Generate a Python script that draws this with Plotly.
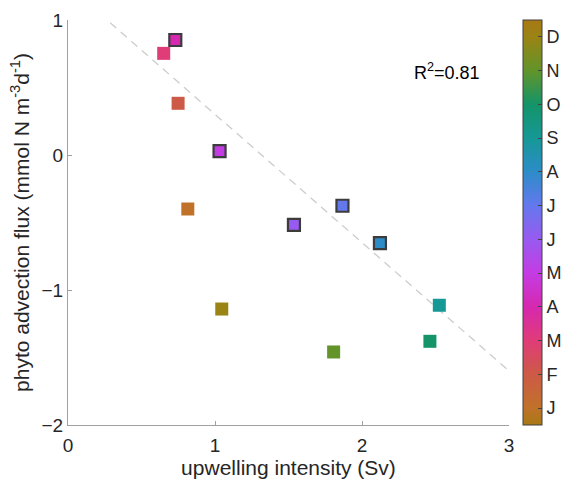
import numpy as np
import plotly.graph_objects as go

# ---- data ----
month_labels = ["J", "F", "M", "A", "M", "J", "J", "A", "S", "O", "N", "D"]
month_num = [1, 2, 3, 4, 5, 6, 7, 8, 9, 10, 11, 12]
upwelling = [0.815, 0.749, 0.651, 0.730, 1.031, 1.537, 1.867, 2.122, 2.526, 2.462, 1.807, 1.046]
advection = [-0.400, 0.383, 0.753, 0.852, 0.028, -0.517, -0.376, -0.653, -1.113, -1.380, -1.459, -1.141]
in_fit = [False, False, False, True, True, True, True, True, False, False, False, False]
r2_label = "R<sup>2</sup>=0.81"
x_ticks = [0, 1, 2, 3]
y_ticks = [-2, -1, 0, 1]

# cyclic month colour scale (sampled from the reference colourbar)
cscale = [
    [0.0, "#a87814"],
    [0.5 / 12, "#c0722a"],
    [1.5 / 12, "#cd5a46"],
    [2.5 / 12, "#e03c78"],
    [3.5 / 12, "#d628b0"],
    [4.5 / 12, "#c43ce4"],
    [5.5 / 12, "#985af0"],
    [6.5 / 12, "#6478ee"],
    [7.5 / 12, "#2c8cc8"],
    [8.5 / 12, "#169896"],
    [9.5 / 12, "#149468"],
    [10.5 / 12, "#62942a"],
    [11.5 / 12, "#9a8414"],
    [1.0, "#a87814"],
]

FONT = "Liberation Sans, Arial, Helvetica, sans-serif"
TXT = "#262626"

x = np.array(upwelling)
y = np.array(advection)
m = np.array(month_num)
f = np.array(in_fit)

slope, intercept = np.polyfit(x[f], y[f], 1)
xl = np.array([0.0, 3.0])
yl = slope * xl + intercept

fig = go.Figure()
fig.add_trace(go.Scatter(
    x=xl, y=yl, mode="lines",
    line=dict(color="#cccccc", width=1.3, dash="8px,6px"),
    hoverinfo="skip", showlegend=False,
))
fig.add_trace(go.Scatter(
    x=x[~f], y=y[~f], mode="markers",
    marker=dict(symbol="square", size=13, color=m[~f], coloraxis="coloraxis",
                line=dict(width=0)),
    showlegend=False,
))
fig.add_trace(go.Scatter(
    x=x[f], y=y[f], mode="markers",
    marker=dict(symbol="square", size=12, color=m[f], coloraxis="coloraxis",
                line=dict(width=2.2, color="#3c3c3c")),
    showlegend=False,
))

fig.add_annotation(
    x=2.58, y=0.62, xref="x", yref="y", text=r2_label, showarrow=False,
    font=dict(family=FONT, size=18, color="#000000"),
)

fig.update_layout(
    width=563, height=481,
    margin=dict(l=68, r=54, t=20, b=56, autoexpand=False),
    paper_bgcolor="white", plot_bgcolor="white",
    font=dict(family=FONT, color=TXT),
    coloraxis=dict(
        colorscale=cscale, cmin=0.5, cmax=12.5,
        colorbar=dict(
            tickvals=month_num, ticktext=month_labels,
            ticks="inside", ticklen=4, tickcolor="#404040",
            tickfont=dict(family=FONT, size=18, color=TXT),
            thickness=19, len=1, lenmode="fraction",
            x=1.032, xanchor="left", xpad=0, y=0.5, yanchor="middle", ypad=0,
            outlinecolor="#404040", outlinewidth=1,
        ),
    ),
    xaxis=dict(
        range=[0, 3], tickvals=x_ticks, ticks="inside", ticklen=4,
        tickcolor="#a0a0a0", showline=True, linecolor="#a0a0a0", linewidth=1,
        showgrid=False, zeroline=False, mirror=False,
        tickfont=dict(family=FONT, size=19, color=TXT), ticklabelstandoff=3,
        title=dict(text="upwelling intensity (Sv)", font=dict(family=FONT, size=21, color=TXT), standoff=2),
    ),
    yaxis=dict(
        range=[-2, 1], tickvals=y_ticks, ticks="inside", ticklen=4,
        tickcolor="#a0a0a0", showline=True, linecolor="#a0a0a0", linewidth=1,
        showgrid=False, zeroline=False, mirror=False,
        tickfont=dict(family=FONT, size=19, color=TXT),
        title=dict(text="phyto advection flux (mmol N m<sup>-3</sup>d<sup>-1</sup>)",
                   font=dict(family=FONT, size=21, color=TXT), standoff=6),
    ),
)

fig.write_html("out.html")
